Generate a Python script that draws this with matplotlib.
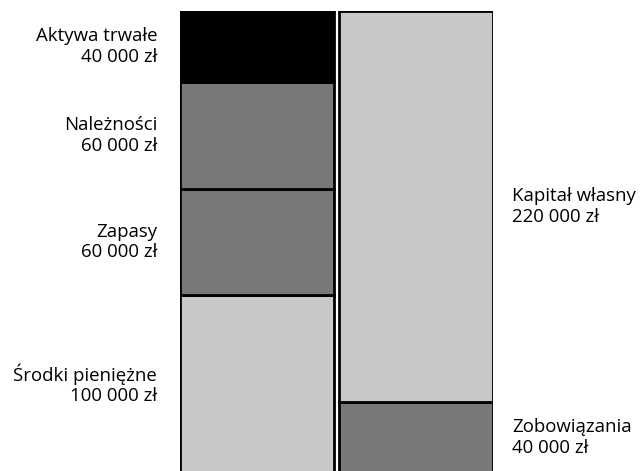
import matplotlib.pyplot as plt
from matplotlib.transforms import blended_transform_factory

# Aktywa (lewa kolumna, od dołu) i pasywa (prawa kolumna, od dołu)
aktywa_nazwy = ['Środki pieniężne', 'Zapasy', 'Należności', 'Aktywa trwałe']
aktywa_wartosci = [100000, 60000, 60000, 40000]
aktywa_kolory = ['#c8c8c8', '#787878', '#787878', '#000000']

pasywa_nazwy = ['Zobowiązania', 'Kapitał własny']
pasywa_wartosci = [40000, 220000]
pasywa_kolory = ['#787878', '#c8c8c8']


def fmt(v):
    return f'{v:,}'.replace(',', ' ') + ' zł'


plt.rcParams['font.family'] = ['Open Sans', 'DejaVu Sans']

fig = plt.figure(figsize=(6.41, 4.71), dpi=100)
ax = fig.add_axes([180 / 641, -2 / 471, 313 / 641, 462 / 471])
ax.set_xlim(-0.485, 1.485)
ax.set_ylim(0, sum(aktywa_wartosci))
ax.axis('off')

tr = blended_transform_factory(fig.transFigure, ax.transData)

dol = 0
for nazwa, v, k in zip(aktywa_nazwy, aktywa_wartosci, aktywa_kolory):
    ax.bar(0, v, bottom=dol, width=0.97, color=k, edgecolor='black', linewidth=2)
    ax.text(157 / 641, dol + v / 2, f'{nazwa}\n{fmt(v)}', transform=tr,
            ha='right', va='center', fontsize=13.4, linespacing=1.2)
    dol += v

dol = 0
for nazwa, v, k in zip(pasywa_nazwy, pasywa_wartosci, pasywa_kolory):
    ax.bar(1, v, bottom=dol, width=0.97, color=k, edgecolor='black', linewidth=2)
    ax.text(512 / 641, dol + v / 2, f'{nazwa}\n{fmt(v)}', transform=tr,
            ha='left', va='center', fontsize=13.4, linespacing=1.2)
    dol += v

fig.savefig('out.png', dpi=100)
